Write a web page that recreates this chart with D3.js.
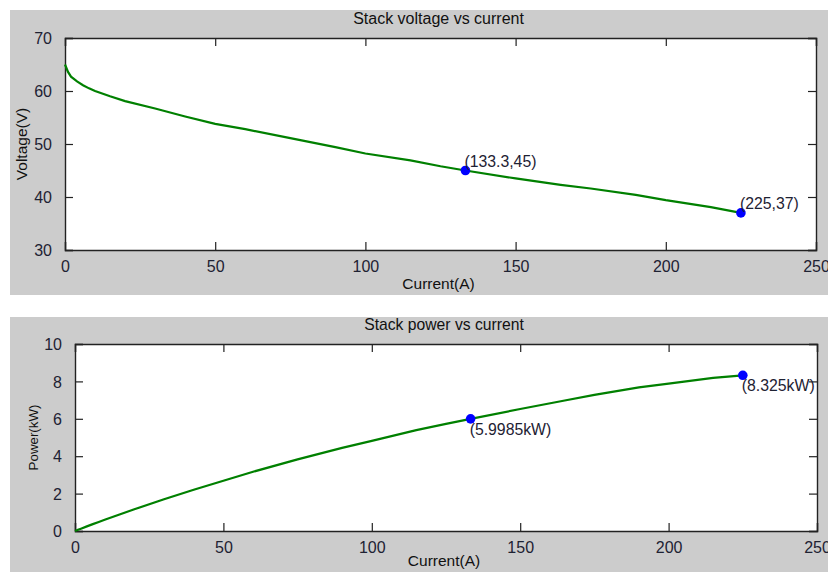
<!DOCTYPE html>
<html>
<head>
<meta charset="utf-8">
<script src="https://cdn.jsdelivr.net/npm/d3@7"></script>
<style>
  body { margin: 0; background: #fff; }
  text { font-family: Arial, "Liberation Sans", sans-serif; }
</style>
</head>
<body>
<div class="canvas"></div>
<script>
// Data

const current = [0, 1, 2, 4, 6, 8, 10, 15, 20, 30, 40, 50, 60, 75, 90, 100, 115, 125, 133.3, 150, 165, 175, 190, 200, 215, 225];
const voltage = [65, 63.6, 62.7, 61.8, 61.1, 60.5, 60.0, 59.0, 58.1, 56.7, 55.2, 53.8, 52.8, 51.1, 49.4, 48.2, 46.9, 45.8, 45, 43.5, 42.3, 41.6, 40.4, 39.4, 38.1, 37];
const power = [0, 0.064, 0.125, 0.247, 0.367, 0.484, 0.600, 0.885, 1.162, 1.701, 2.208, 2.69, 3.168, 3.833, 4.446, 4.82, 5.394, 5.725, 5.9985, 6.525, 6.98, 7.28, 7.676, 7.88, 8.19, 8.325];

const xTicks = [0, 50, 100, 150, 200, 250];
const vTicks = [30, 40, 50, 60, 70];
const pTicks = [0, 2, 4, 6, 8, 10];

const vMarks = [{ i: 133.3, v: 45, label: "(133.3,45)" }, { i: 225, v: 37, label: "(225,37)" }];
const pMarks = [{ i: 133.3, v: 5.9985, label: "(5.9985kW)" }, { i: 225, v: 8.325, label: "(8.325kW)" }];

const W = 828, H = 572;
const lineColor = "#008000";
const textColor = "#1e2233";

const svg = d3.select(".canvas")
    .append("svg")
    .attr("width", W)
    .attr("height", H);

// one MATLAB-style panel
function panel(o) {
    const x = d3.scaleLinear().domain([0, 250]).range([o.left, o.right]);
    const y = d3.scaleLinear().domain(o.yDomain).range([o.bottom, o.top]);

    // gray figure background
    svg.append("rect")
        .attr("x", 10).attr("y", o.bgTop)
        .attr("width", W - 10).attr("height", o.bgBottom - o.bgTop)
        .attr("fill", "#cccccc");

    svg.append("rect")
        .attr("x", o.left).attr("y", o.top)
        .attr("width", o.right - o.left).attr("height", o.bottom - o.top)
        .attr("fill", "#fff");

    // axes, ticks pointing inwards, mirrored on top and right
    const tk = 8;
    const axB = svg.append("g")
        .attr("transform", `translate(0,${o.bottom})`)
        .call(d3.axisBottom(x).tickValues(xTicks).tickSize(-tk).tickPadding(tk + 3).tickFormat(d3.format("d")));
    const axT = svg.append("g")
        .attr("transform", `translate(0,${o.top})`)
        .call(d3.axisTop(x).tickValues(xTicks).tickSize(-tk).tickFormat(""));
    const axL = svg.append("g")
        .attr("transform", `translate(${o.left},0)`)
        .call(d3.axisLeft(y).tickValues(o.yTicks).tickSize(-tk).tickPadding(tk + 5).tickFormat(d3.format("d")));
    const axR = svg.append("g")
        .attr("transform", `translate(${o.right},0)`)
        .call(d3.axisRight(y).tickValues(o.yTicks).tickSize(-tk).tickFormat(""));

    [axB, axT, axL, axR].forEach(g => {
        g.select(".domain").attr("stroke", "#222").attr("stroke-width", 1.4);
        g.selectAll(".tick line").attr("stroke", "#222").attr("stroke-width", 1.2);
        g.selectAll(".tick text")
            .attr("fill", textColor)
            .style("font-size", "16px")
            .style("font-family", "Arial, 'Liberation Sans', sans-serif");
    });
    axL.selectAll(".tick text").attr("dy", "0.36em");

    // curve
    const line = d3.line()
        .x((d, i) => x(current[i]))
        .y(d => y(d));

    svg.append("path")
        .datum(o.values)
        .attr("fill", "none")
        .attr("stroke", lineColor)
        .attr("stroke-width", 2.2)
        .attr("d", line);

    // data tips
    svg.selectAll(null)
        .data(o.marks)
        .join("circle")
        .attr("cx", d => x(d.i))
        .attr("cy", d => y(d.v))
        .attr("r", 4.8)
        .attr("fill", "#0000ff");

    svg.selectAll(null)
        .data(o.marks)
        .join("text")
        .attr("x", d => x(d.i) - 1)
        .attr("y", d => y(d.v) + o.labelDy)
        .attr("fill", textColor)
        .style("font-size", "15.8px")
        .text(d => d.label);

    // titles
    svg.append("text")
        .attr("x", (o.left + o.right) / 2 - 2)
        .attr("y", o.top - 14)
        .attr("text-anchor", "middle")
        .attr("fill", "#111")
        .style("font-size", o.titleSize)
        .text(o.title);

    svg.append("text")
        .attr("x", (o.left + o.right) / 2 - 2)
        .attr("y", o.bottom + o.xLabelDy)
        .attr("text-anchor", "middle")
        .attr("fill", "#111")
        .style("font-size", "15.5px")
        .text("Current(A)");

    svg.append("text")
        .attr("transform", `translate(${o.yLabelX},${(o.top + o.bottom) / 2}) rotate(-90)`)
        .attr("text-anchor", "middle")
        .attr("dy", "0.35em")
        .attr("fill", "#111")
        .style("font-size", o.yLabelSize)
        .text(o.yLabel);
}

panel({
    bgTop: 10, bgBottom: 295,
    left: 65, right: 816, top: 38, bottom: 250,
    yDomain: [30, 70], yTicks: vTicks,
    values: voltage, marks: vMarks, labelDy: -4,
    title: "Stack voltage vs current", titleSize: "16px",
    yLabel: "Voltage(V)", yLabelX: 22, yLabelSize: "15.5px", xLabelDy: 39
});

panel({
    bgTop: 317, bgBottom: 572,
    left: 75, right: 817, top: 344, bottom: 531,
    yDomain: [0, 10], yTicks: pTicks,
    values: power, marks: pMarks, labelDy: 16,
    title: "Stack power vs current", titleSize: "15.7px",
    yLabel: "Power(kW)", yLabelX: 33, yLabelSize: "13.3px", xLabelDy: 35
});
</script>
</body>
</html>
